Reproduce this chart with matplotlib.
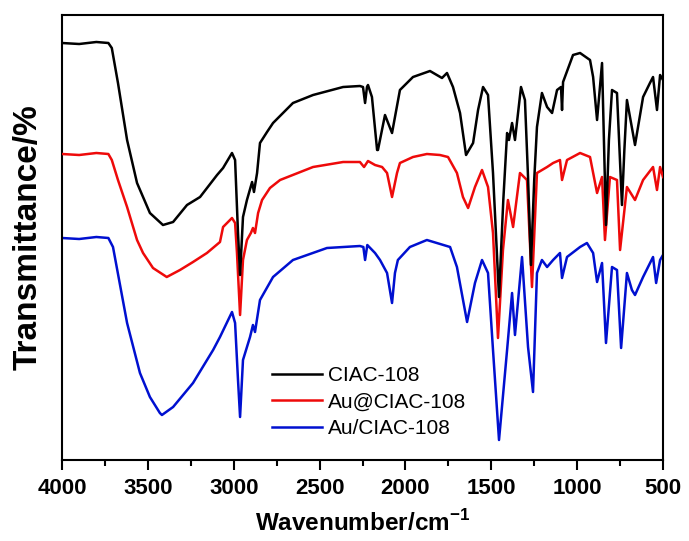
import matplotlib
matplotlib.use('Agg')
from matplotlib import pyplot as plt
from matplotlib.ticker import MultipleLocator

plt.rcParams['font.family'] = ['Liberation Sans', 'DejaVu Sans']
plt.rcParams['mathtext.fontset'] = 'custom'
plt.rcParams['mathtext.rm'] = 'Liberation Sans'
plt.rcParams['mathtext.bf'] = 'Liberation Sans:bold'

# FTIR spectra (wavenumber in cm-1, offset transmittance in a.u.)
ciac_wn = [4000, 3900, 3800, 3730, 3710, 3674, 3621, 3563, 3488, 3412,
           3353, 3272, 3196, 3097, 3062, 3010, 2992, 2975, 2963, 2946,
           2923, 2893, 2882, 2864, 2847, 2806, 2771, 2655, 2538, 2363,
           2265, 2247, 2235, 2224, 2218, 2195, 2165, 2160, 2119, 2078,
           2032, 1956, 1857, 1787, 1758, 1723, 1682, 1647, 1606, 1577,
           1548, 1519, 1490, 1455, 1430, 1408, 1397, 1379, 1362, 1327,
           1304, 1286, 1269, 1250, 1234, 1205, 1175, 1146, 1117, 1094,
           1088, 1082, 1024, 983, 925, 907, 884, 855, 832, 815,
           797, 768, 739, 725, 710, 663, 616, 576, 558, 535,
           517, 500]
ciac_t = [417, 416, 418, 417, 412, 377, 320, 277, 247, 235,
          238, 255, 263, 285, 292, 307, 300, 227, 185, 243,
          260, 278, 268, 287, 317, 328, 337, 357, 365, 373,
          374, 373, 357, 373, 375, 363, 310, 310, 345, 327,
          370, 383, 389, 382, 387, 373, 347, 305, 317, 350,
          373, 365, 287, 163, 260, 327, 320, 337, 320, 373,
          360, 283, 195, 280, 333, 367, 353, 347, 370, 373,
          350, 378, 405, 407, 400, 383, 340, 397, 235, 320,
          370, 367, 255, 310, 360, 315, 363, 377, 383, 350,
          385, 380]

au_at_wn = [4000, 3900, 3800, 3730, 3710, 3674, 3621, 3563, 3528, 3470,
            3390, 3313, 3237, 3156, 3080, 3062, 3010, 2992, 2981, 2963,
            2946, 2923, 2900, 2888, 2876, 2858, 2835, 2789, 2730, 2538,
            2363, 2265, 2241, 2218, 2177, 2136, 2107, 2078, 2049, 2032,
            1956, 1875, 1799, 1752, 1700, 1665, 1635, 1595, 1554, 1519,
            1490, 1461, 1432, 1403, 1373, 1333, 1292, 1263, 1234, 1175,
            1140, 1100, 1088, 1059, 983, 925, 884, 855, 838, 809,
            768, 750, 710, 663, 616, 558, 535, 517, 500]
au_at_t = [306, 305, 307, 306, 300, 280, 253, 220, 207, 192,
           183, 190, 198, 207, 218, 233, 242, 237, 207, 145,
           200, 220, 227, 232, 227, 247, 260, 272, 280, 293,
           298, 298, 293, 299, 295, 293, 287, 263, 287, 297,
           303, 306, 305, 303, 287, 263, 252, 273, 290, 273,
           227, 122, 210, 260, 233, 287, 280, 173, 287, 293,
           297, 300, 280, 300, 307, 303, 267, 283, 220, 283,
           280, 210, 273, 260, 280, 293, 270, 293, 283]

au_on_wn = [4000, 3900, 3800, 3730, 3703, 3621, 3546, 3488, 3430, 3418,
            3353, 3237, 3120, 3080, 3010, 2992, 2975, 2963, 2946, 2905,
            2888, 2876, 2847, 2771, 2655, 2457, 2265, 2245, 2235, 2222,
            2177, 2148, 2107, 2078, 2061, 2044, 1974, 1875, 1740, 1700,
            1641, 1595, 1554, 1519, 1490, 1455, 1408, 1379, 1362, 1321,
            1286, 1257, 1234, 1205, 1175, 1140, 1100, 1088, 1059, 983,
            943, 907, 884, 855, 832, 797, 768, 744, 710, 681,
            663, 616, 558, 540, 517, 500]
au_on_t = [222, 221, 223, 222, 213, 137, 87, 63, 47, 45,
           53, 77, 110, 123, 148, 137, 80, 43, 100, 123,
           135, 128, 160, 183, 200, 212, 214, 213, 200, 215,
           207, 200, 187, 157, 187, 200, 213, 220, 213, 193,
           138, 177, 200, 187, 110, 20, 110, 167, 125, 203,
           113, 68, 187, 200, 193, 200, 207, 182, 203, 213,
           217, 207, 178, 197, 117, 193, 190, 112, 187, 170,
           165, 183, 203, 177, 200, 205]

fig = plt.figure(figsize=(6.89, 5.41), dpi=100)
ax = fig.add_axes([62 / 689, 1 - 460 / 541, 601 / 689, 445 / 541])

# blue underneath, black on top
l3, = ax.plot(au_on_wn, au_on_t, color='#0010d0', lw=1.8, zorder=2)
l2, = ax.plot(au_at_wn, au_at_t, color='#ee0a0a', lw=1.8, zorder=3)
l1, = ax.plot(ciac_wn, ciac_t, color='black', lw=1.8, zorder=4)

ax.set_xlim(4000, 500)
ax.set_ylim(0, 445)
ax.xaxis.set_major_locator(MultipleLocator(500))
ax.xaxis.set_minor_locator(MultipleLocator(250))
ax.tick_params(axis='x', which='major', direction='out', length=7, width=1.5, pad=6,
               labelsize=16)
ax.tick_params(axis='x', which='minor', direction='out', length=4, width=1.5)
ax.set_yticks([])
for lab in ax.get_xticklabels():
    lab.set_fontweight('bold')
for sp in ax.spines.values():
    sp.set_linewidth(1.5)

ax.set_xlabel(r'Wavenumber/cm$^{\mathbf{-1}}$', fontsize=17.5, fontweight='bold', labelpad=8)
ax.set_ylabel('Transmittance/%', fontsize=24, fontweight='bold', labelpad=13)

ax.legend([l1, l2, l3], ['CIAC-108', 'Au@CIAC-108', 'Au/CIAC-108'],
          loc='upper left', bbox_to_anchor=(0.349, 0.211), frameon=False,
          fontsize=15, handlelength=2.4, handletextpad=0.3, labelspacing=0.36,
          borderpad=0, borderaxespad=0)

plt.savefig('out.png', dpi=100)
